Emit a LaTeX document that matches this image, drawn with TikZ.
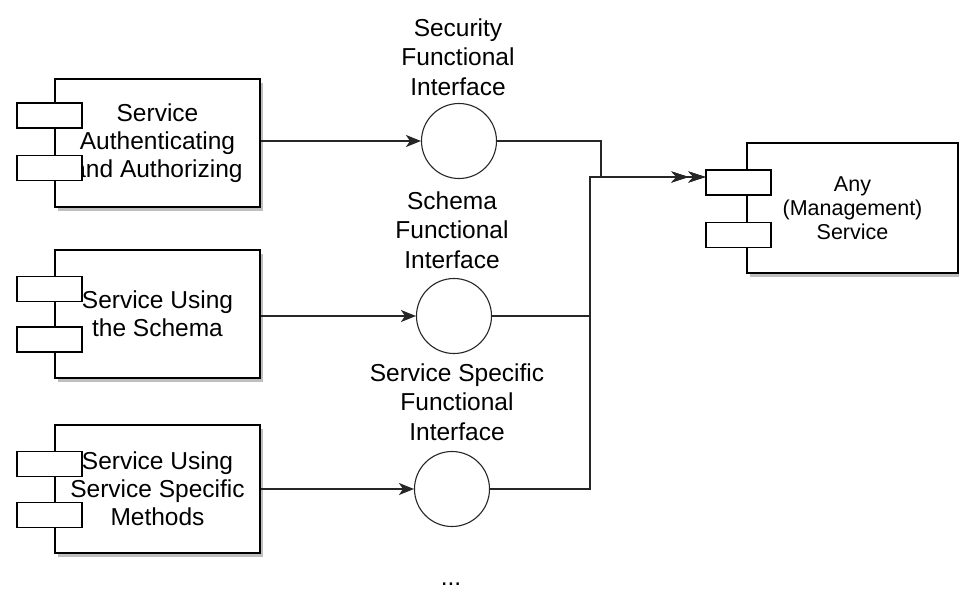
\documentclass[tikz,border=0pt]{standalone}
\usepackage{fontspec}
\setmainfont{Liberation Sans}
\usetikzlibrary{arrows.meta,shadows,calc}
\begin{document}
\begin{tikzpicture}[x=1pt,y=-1pt,
 comp/.style={draw=black,line width=1.4pt,fill=white,minimum width=205pt,minimum height=128pt,inner sep=0pt,
   drop shadow={shadow xshift=3pt,shadow yshift=-4pt,opacity=0.5},align=center,font=\fontsize{24.5}{28}\selectfont},
 port/.style={draw=black,line width=1.2pt,fill=white,minimum width=65pt,minimum height=25pt,inner sep=0pt},
 iface/.style={circle,draw=black!85,line width=1.1pt,minimum size=75pt,inner sep=0pt},
 lbl/.style={align=center,font=\fontsize{24.5}{29.5}\selectfont},
 conn/.style={draw=black!85,line width=1.4pt},
 tip/.style={-{Stealth[length=15pt,width=12pt,inset=4pt]}},
 dtip/.style={-{Stealth[length=17pt,width=11pt,inset=5pt]Stealth[length=17pt,width=11pt,inset=5pt]}}]
\useasboundingbox (0,0) rectangle (959,590);
\fill[white] (0,0) rectangle (959,590);

% components
\node[comp] (b1) at (157.5,143) {Service\\Authenticating\\and Authorizing};
\node[comp] (b2) at (157.5,314) {Service Using\\the Schema};
\node[comp] (b3) at (157.5,489) {Service Using\\Service Specific\\Methods};
\node[comp,minimum width=211pt,minimum height=130pt,font=\fontsize{21.5}{24}\selectfont] (rb) at (852.5,208) {Any\\(Management)\\Service};

% ports
\node[port] (p1a) at (49.5,115.5) {};
\node[port] (p1b) at (49.5,168) {};
\node[port] (p2a) at (49.5,289) {};
\node[port] (p2b) at (49.5,339.5) {};
\node[port] (p3a) at (49.5,464) {};
\node[port] (p3b) at (49.5,515) {};
\node[port] (r1) at (738.5,182.5) {};
\node[port] (r2) at (738.5,235) {};

% interfaces
\node[iface] (c1) at (459,141) {};
\node[iface] (c2) at (454,316) {};
\node[iface] (c3) at (452,489) {};
\node[lbl] (l1) at (458,57) {Security\\Functional\\Interface};
\node[lbl] (l2) at (452,230) {Schema\\Functional\\Interface};
\node[lbl] (l3) at (457,402) {Service Specific\\Functional\\Interface};
\node[anchor=base,font=\fontsize{24.5}{28}\selectfont] (dots) at (451,585) {...};

% connectors
\draw[conn,tip] (b1.east |- c1.west) -- (c1.west);
\draw[conn,tip] (b2.east |- c2.west) -- (c2.west);
\draw[conn,tip] (b3.east |- c3.west) -- (c3.west);

\coordinate (j1) at (601,177);
\coordinate (j2) at (590,177);
\draw[conn,dtip] (c1.east) -| (j1) -- ([yshift=5.5pt]r1.west);
\draw[conn,dtip] (c2.east) -| (j2) -- ([yshift=5.5pt]r1.west);
\draw[conn,dtip] (c3.east) -| (j2) -- ([yshift=5.5pt]r1.west);
\end{tikzpicture}
\end{document}
